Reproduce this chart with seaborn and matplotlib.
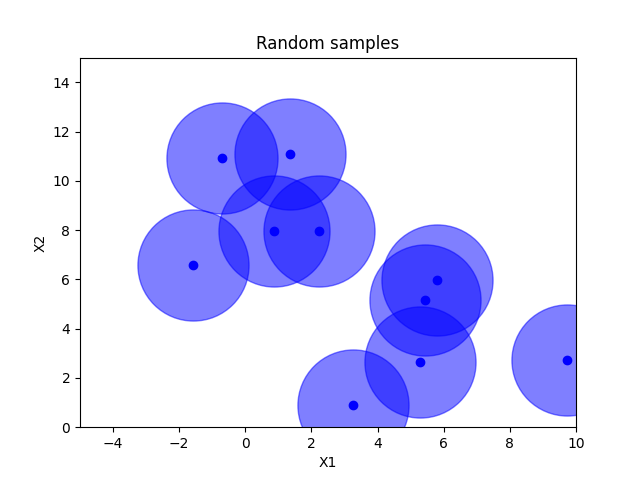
import matplotlib
matplotlib.use("Agg")
import matplotlib.pyplot as plt
import seaborn as sns
import pandas as pd

x1 = [-0.70, 1.36, 0.87, 2.24, -1.57, 5.80, 5.44, 5.29, 3.26, 9.72]
x2 = [10.91, 11.09, 7.95, 7.95, 6.58, 5.96, 5.15, 2.63, 0.89, 2.73]

df = pd.DataFrame({"X1": x1, "X2": x2})

fig, ax = plt.subplots(figsize=(6.4, 4.8), dpi=100)
sns.scatterplot(data=df, x="X1", y="X2", s=6400, color="blue", alpha=0.5,
                edgecolor="blue", linewidth=1.0, ax=ax)
sns.scatterplot(data=df, x="X1", y="X2", s=36, color="blue",
                edgecolor="blue", linewidth=1.0, ax=ax)
ax.set_xlim(-5, 10)
ax.set_ylim(0, 15)
ax.set_title("Random samples")
ax.set_xlabel("X1")
ax.set_ylabel("X2")
fig.savefig("out.png", dpi=100)
